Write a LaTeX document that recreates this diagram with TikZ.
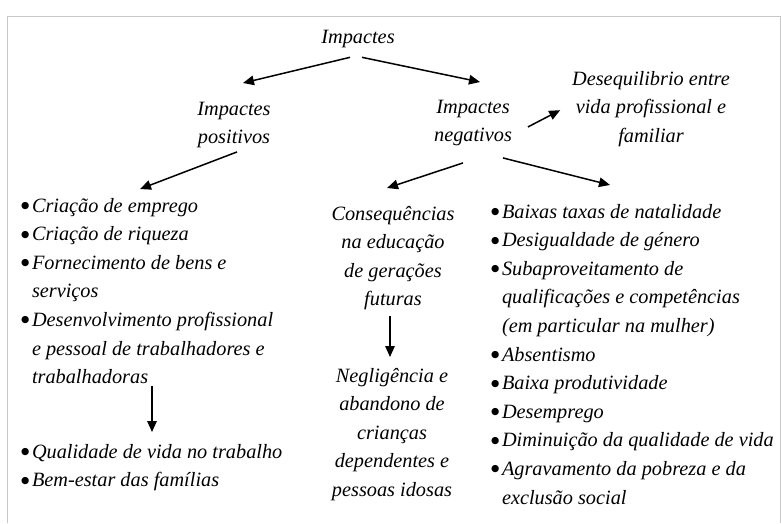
\documentclass[tikz,border=0pt]{standalone}
\usepackage{fontspec}
\setmainfont{Liberation Serif}
\newfontfamily\symfont{DejaVu Sans}
\usetikzlibrary{arrows.meta,calc}
\newcommand\blt{\makebox[11pt][l]{\raisebox{3.5pt}{\upshape\symfont\fontsize{9.5}{9.5}\selectfont ●}}}
\begin{document}
\begin{tikzpicture}[x=1pt,y=-1pt,
  every node/.style={inner sep=0pt, outer sep=0pt, font=\fontsize{20.3}{28.6}\selectfont\itshape},
  lbl/.style={align=center, anchor=north},
  lst/.style={align=left, anchor=north west},
  arr/.style={-{Triangle[length=11pt,width=9.5pt]}, line width=1.5pt},
  frameline/.style={draw=black!22, line width=0.8pt}]
\fill[white] (0,0) rectangle (781,523);
\useasboundingbox (0,0) rectangle (781,523);
\draw[frameline] (7,523) -- (7,16) -- (780,16) -- (780,523);

\node[anchor=base] (imp) at (358,43) {Impactes};
\node[lbl] (pos) at (234,95) {\strut Impactes\\positivos};
\node[lbl] (neg) at (473,93) {\strut Impactes\\negativos};
\node[lbl] (des) at (651,65) {\strut Desequilibrio entre\\vida profissional e\\familiar};
\node[lst] (pl1) at (21,192) {\strut\blt Criação de emprego\\\blt Criação de riqueza\\\blt Fornecimento de bens e\\\hspace*{11pt}serviços\\\blt Desenvolvimento profissional\\\hspace*{11pt}e pessoal de trabalhadores e\\\hspace*{11pt}trabalhadoras};
\node[lst] (pl2) at (21,438) {\strut\blt Qualidade de vida no trabalho\\\blt Bem-estar das famílias};
\node[lbl] (cons) at (393,200) {\strut Consequências\\na educação\\de gerações\\futuras};
\node[lbl] (negl) at (392,362) {\strut Negligência e\\abandono de\\crianças\\dependentes e\\pessoas idosas};
\node[lst] (nl) at (491,198) {\strut\blt Baixas taxas de natalidade\\\blt Desigualdade de género\\\blt Subaproveitamento de\\\hspace*{11pt}qualificações e competências\\\hspace*{11pt}(em particular na mulher)\\\blt Absentismo\\\blt Baixa produtividade\\\blt Desemprego\\\blt Diminuição da qualidade de vida\\\blt Agravamento da pobreza e da\\\hspace*{11pt}exclusão social};

\draw[arr] ($(imp.south)+(-8,10)$) -- ($(pos.north)+(9,-12)$);
\draw[arr] ($(imp.south)+(4,10)$) -- ($(neg.north)+(7,-11)$);
\draw[arr] ($(pos.south)+(3,4)$) -- ($(pl1.north west)+(119,-3)$);
\draw[arr] ($(neg.east)+(16,7.5)$) -- ($(des.west)+(-12,4.4)$);
\draw[arr] ($(neg.south)+(-10,17)$) -- ($(cons.north)+(-6,-12)$);
\draw[arr] ($(neg.south)+(30,12)$) -- ($(nl.north west)+(119,-13)$);
\draw[arr] ($(pl1.south west)+(131,2)$) -- ($(pl2.north west)+(131,-6)$);
\draw[arr] ($(cons.south)+(-3,6)$) -- ($(negl.north)+(-2,-5)$);
\end{tikzpicture}
\end{document}
